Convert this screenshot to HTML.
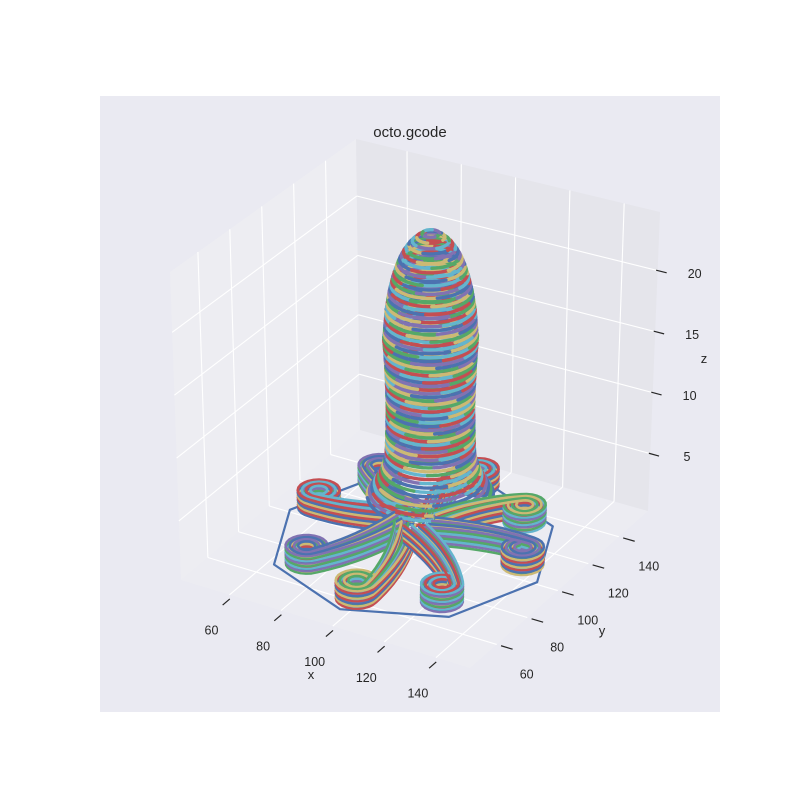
<!DOCTYPE html>
<html><head><meta charset="utf-8"><style>
html,body{margin:0;padding:0;background:#fff;}
svg{display:block;font-family:"Liberation Sans","DejaVu Sans",sans-serif;}
</style></head><body>
<svg id="chart" width="800" height="800" viewBox="0 0 800 800" xmlns="http://www.w3.org/2000/svg">
<rect x="0" y="0" width="800" height="800" fill="#ffffff"/>
<rect x="100" y="96" width="620" height="616" fill="#eaeaf2"/>
<g id="panes"></g>
<g id="grid"></g>
<g id="ticks"></g>
<g id="marks"></g>
<text x="410" y="137" text-anchor="middle" font-size="15" fill="#262626">octo.gcode</text>
<text x="311" y="679" text-anchor="middle" font-size="13" fill="#262626">x</text>
<text x="602" y="635" text-anchor="middle" font-size="13" fill="#262626">y</text>
<text x="704" y="363" text-anchor="middle" font-size="13" fill="#262626">z</text>
</svg>
<script>
const xTicks = [60, 80, 100, 120, 140];
const yTicks = [60, 80, 100, 120, 140];
const zTicks = [5, 10, 15, 20];
const xRange = [41.2, 153.2];
const yRange = [42.5, 159.1];
const zRange = [0.3, 24.8];

const bodyCenter = [90, 123];
const layerZ = [1.8,2.1,2.4,2.7,3.0,3.3,3.6,3.9,4.2,4.5,4.8,5.1,5.4,5.7,6.0,6.3,6.6,6.9,7.2,7.5,7.8,8.1,8.4,8.7,9.0,9.3,9.6,9.9,10.2,10.5,10.8,11.1,11.4,11.7,12.0,12.3,12.6,12.9,13.2,13.5,13.8,14.1,14.4,14.7,15.0,15.3,15.6,15.9,16.2,16.5,16.8,17.1,17.4,17.7,18.0,18.3,18.6,18.9,19.2,19.5,19.8,20.1,20.4,20.7,21.0,21.3,21.6,21.9,22.2,22.5,22.8,23.1];
const layerR = [21.0,20.2,19.4,18.6,17.8,17.1,16.5,16.0,15.6,15.2,14.9,14.7,14.6,14.5,14.5,14.4,14.4,14.4,14.3,14.3,14.3,14.3,14.2,14.2,14.2,14.2,14.2,14.3,14.3,14.3,14.4,14.4,14.5,14.5,14.6,14.6,14.7,14.8,14.8,14.9,15.0,15.1,15.2,15.2,15.0,14.9,14.8,14.7,14.6,14.5,14.4,14.2,14.0,13.8,13.6,13.4,13.1,12.8,12.5,12.2,11.8,11.4,11.0,10.5,10.0,9.4,8.7,7.9,7.0,5.9,4.5,2.8];

const tentCenter = [93, 110];
const tentTipX = [55.7, 71.2, 97.3, 122.9, 134.0, 120.3, 94.4, 64.5];
const tentTipY = [108.1, 74.1, 62.8, 75.3, 109.3, 133.6, 146.5, 132.9];
const tentLayerZ = [0.25, 0.45, 0.65, 0.85, 1.05, 1.25, 1.45, 1.65];

const skirtCenter = [96, 102];
const skirtRadius = 48;
const skirtZ = 0.2;

const palette = ['#4c72b0', '#55a868', '#c44e52', '#8172b2', '#ccb974', '#64b5cd'];

const Lb=[181,580], Fb=[470,668], Rb=[648,511], Bb=[360,430];
const Lt=[170,272], Ft=[474,350], Rt=[660,212], Bt=[356,139];
function bil(a,b,c,d,u,v){
  return [
    a[0]*(1-u)*(1-v)+b[0]*u*(1-v)+c[0]*u*v+d[0]*(1-u)*v,
    a[1]*(1-u)*(1-v)+b[1]*u*(1-v)+c[1]*u*v+d[1]*(1-u)*v];
}
function P(x,y,z){
  const u=(x-xRange[0])/(xRange[1]-xRange[0]);
  const v=(y-yRange[0])/(yRange[1]-yRange[0]);
  const t=(z-zRange[0])/(zRange[1]-zRange[0]);
  const b=bil(Lb,Fb,Rb,Bb,u,v), tp=bil(Lt,Ft,Rt,Bt,u,v);
  return [b[0]+(tp[0]-b[0])*t, b[1]+(tp[1]-b[1])*t];
}
const NS='http://www.w3.org/2000/svg';
function mk(tag,attrs,parent){const e=document.createElementNS(NS,tag);for(const k in attrs)e.setAttribute(k,attrs[k]);parent.appendChild(e);return e;}
function pts(arr){return arr.map(p=>p[0].toFixed(1)+','+p[1].toFixed(1)).join(' ');}

const panes=document.getElementById('panes');
const zl=zRange[0], zh=zRange[1], xl=xRange[0], xh=xRange[1], yl=yRange[0], yh=yRange[1];
let e;
e=mk('polygon',{points:pts([P(xl,yl,zl),P(xh,yl,zl),P(xh,yh,zl),P(xl,yh,zl)]),fill:'#ececf2'},panes);


e=mk('polygon',{points:pts([P(xl,yl,zl),P(xl,yh,zl),P(xl,yh,zh),P(xl,yl,zh)]),fill:'#ededf2'},panes);


e=mk('polygon',{points:pts([P(xl,yh,zl),P(xh,yh,zl),P(xh,yh,zh),P(xl,yh,zh)]),fill:'#e5e5eb'},panes);



const grid=document.getElementById('grid');
function gl(a,b,name){const g=mk('line',{x1:a[0],y1:a[1],x2:b[0],y2:b[1],stroke:'#ffffff','stroke-width':1.1},grid);
  
  }
xTicks.forEach(x=>{gl(P(x,yl,zl),P(x,yh,zl),'floor-gridline-x');gl(P(x,yh,zl),P(x,yh,zh),'back-gridline-x');});
yTicks.forEach(y=>{gl(P(xl,y,zl),P(xh,y,zl),'floor-gridline-y');gl(P(xl,y,zl),P(xl,y,zh),'left-gridline-y');});
zTicks.forEach(z=>{gl(P(xl,yl,z),P(xl,yh,z),'left-gridline-z');gl(P(xl,yh,z),P(xh,yh,z),'back-gridline-z');});

const ticks=document.getElementById('ticks');
function tk(a,b,name){const g=mk('line',{x1:a[0],y1:a[1],x2:b[0],y2:b[1],stroke:'#262626','stroke-width':1.2},ticks);
  
  }
function lb(p,txt,name){const t=mk('text',{x:p[0].toFixed(1),y:p[1].toFixed(1),'text-anchor':'middle','font-size':12.5,fill:'#262626'},ticks);
  t.textContent=txt;
  
  }
const yr=yh-yl, xr=xh-xl;
xTicks.forEach(x=>{const a=P(x+1.5,yl-0.02*yr,zl), b=P(x+1.5,yl-0.06*yr,zl);tk(a,b,'x-tick');
  const m=P(x,yl-0.045*yr,zl);lb([m[0]-10,m[1]+33],String(x),'x-tick-label');});
yTicks.forEach(y=>{const a=P(xh+0.015*xr,y,zl), b=P(xh+0.055*xr,y,zl);tk(a,b,'y-tick');
  const m=P(xh+0.045*xr,y,zl);lb([m[0]+17,m[1]+30],String(y),'y-tick-label');});
zTicks.forEach(z=>{const a=P(xh-0.005*xr,yh,z), b=P(xh+0.03*xr,yh,z);tk(a,b,'z-tick');
  const m=P(xh+0.03*xr,yh,z);lb([m[0]+28,m[1]+5],String(z),'z-tick-label');});

const marks=document.getElementById('marks');
function line(arr,color,name,w){const p=mk('polyline',{points:pts(arr),fill:'none',stroke:color,'stroke-width':w||2.2,'stroke-linejoin':'round','stroke-linecap':'round'},marks);
  
  }

(function(){const arr=[];for(let k=0;k<=8;k++){const a=k*Math.PI/4;arr.push(P(skirtCenter[0]+skirtRadius*Math.cos(a),skirtCenter[1]+skirtRadius*Math.sin(a),skirtZ));}
  line(arr,'#4c72b0','skirt-outline',2.2);})();

function depth(x,y){return (y-yl)/yr-(x-xl)/xr;}
const items=[];
tentTipX.forEach((tx,i)=>{items.push({d:depth(tx,tentTipY[i]),draw:()=>drawTentacle(i)});});
items.push({d:depth(bodyCenter[0],bodyCenter[1])+0.02,draw:drawBody});
items.sort((a,b)=>b.d-a.d).forEach(it=>it.draw());

function drawTentacle(i){
  const tx=tentTipX[i], ty=tentTipY[i];
  let dx=tx-tentCenter[0], dy=ty-tentCenter[1];const L=Math.hypot(dx,dy);dx/=L;dy/=L;
  const px=-dy, py=dx;
  tentLayerZ.forEach((z,li)=>{
    [7.0,5.6,4.2,2.8].forEach((rc,bi)=>{
      const arr=[];
      const r0=[tentCenter[0]+dx*6+px*(rc-6)*1.8,tentCenter[1]+dy*6+py*(rc-6)*1.8];
      const A=[tx+px*rc,ty+py*rc];
      const cxm=(r0[0]+A[0])/2+px*4, cym=(r0[1]+A[1])/2+py*4;
      for(let s=0;s<=12;s++){const t=s/12;
        arr.push(P((1-t)*(1-t)*r0[0]+2*t*(1-t)*cxm+t*t*A[0],(1-t)*(1-t)*r0[1]+2*t*(1-t)*cym+t*t*A[1],z));}
      for(let s=1;s<=20;s++){const th=s/20*Math.PI*1.7;
        arr.push(P(tx+rc*(px*Math.cos(th)+dx*Math.sin(th)),ty+rc*(py*Math.cos(th)+dy*Math.sin(th)),z));}
      line(arr,palette[(li*2+bi*3+i)%6],'tentacle-'+(i+1)+'-layer',2.6);
    });
  });
}
function drawBody(){
  layerZ.forEach((z,i)=>{
    const r=layerR[i];const segs=5;
    for(let s=0;s<segs;s++){const arr=[];
      for(let k=0;k<=10;k++){const a=(s+k/10)*2*Math.PI/segs+i*0.7;
        arr.push(P(bodyCenter[0]+r*Math.cos(a),bodyCenter[1]+r*Math.sin(a),z));}
      line(arr,palette[(i*5+s*2)%6],'body-layer-segment',3.4);}
  });
}
</script>
</body></html>
